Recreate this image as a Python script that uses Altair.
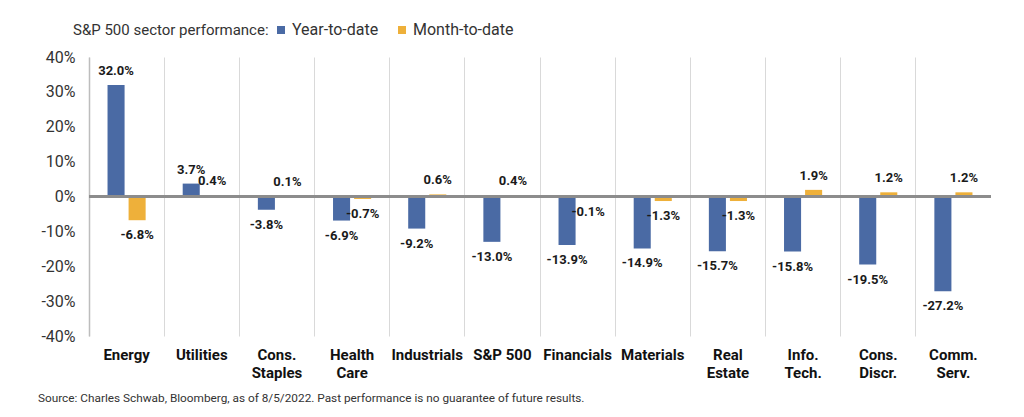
import altair as alt
import pandas as pd

sectors = ["Energy", "Utilities", "Cons.|Staples", "Health|Care", "Industrials", "S&P 500",
           "Financials", "Materials", "Real|Estate", "Info.|Tech.", "Cons.|Discr.", "Comm.|Serv."]
ytd = [32.0, 3.7, -3.8, -6.9, -9.2, -13.0, -13.9, -14.9, -15.7, -15.8, -19.5, -27.2]
mtd = [-6.8, 0.4, 0.1, -0.7, 0.6, 0.4, -0.1, -1.3, -1.3, 1.9, 1.2, 1.2]
series = ["Year-to-date", "Month-to-date"]
y_ticks = [-40, -30, -20, -10, 0, 10, 20, 30, 40]
source = "Source: Charles Schwab, Bloomberg, as of 8/5/2022. Past performance is no guarantee of future results."

rows = []
for s, a, b in zip(sectors, ytd, mtd):
    rows.append({"sector": s, "series": series[0], "value": a})
    rows.append({"sector": s, "series": series[1], "value": b})
df = pd.DataFrame(rows)
df["label"] = df["value"].map(lambda v: f"{v:.1f}%")

FONT = "Roboto"
BLUE = "#4a6aa4"
GOLD = "#eeb03a"

x_enc = alt.X("sector:N", sort=sectors, title=None,
              scale=alt.Scale(paddingInner=0, paddingOuter=0),
              axis=alt.Axis(labelExpr="split(datum.label, '|')", labelAngle=0,
                            labelFont=FONT, labelFontSize=15, labelFontWeight="bold",
                            labelColor="#111111", labelPadding=11, labelLineHeight=18,
                            labelBaseline="top",
                            domain=False, ticks=False, grid=True, bandPosition=0,
                            gridColor="#d9d9d9", gridWidth=1))
off_enc = alt.XOffset("series:N", sort=series,
                      scale=alt.Scale(paddingInner=0.19, paddingOuter=0.88))
y_enc = alt.Y("value:Q", scale=alt.Scale(domain=[-40, 40], nice=False), title=None,
              axis=alt.Axis(values=y_ticks, tickCount=9, labelExpr="datum.value + '%'",
                            labelFont=FONT, labelFontSize=16, labelColor="#333333",
                            labelPadding=14, ticks=False, grid=False, labelOverlap=False,
                            domainColor="#bdbdbd", domainWidth=1.5))

base = alt.Chart(df)

bars = base.mark_bar().encode(
    x=x_enc,
    xOffset=off_enc,
    y=y_enc,
    color=alt.Color("series:N", sort=series,
                    scale=alt.Scale(domain=series, range=[BLUE, GOLD]),
                    legend=alt.Legend(title="S&P 500 sector performance:", orient="none",
                                      legendX=-16, legendY=-35, direction="horizontal",
                                      titleOrient="left", titleFont=FONT, titleFontSize=15,
                                      titleFontWeight="normal", titleColor="#333333",
                                      titleLimit=400, labelLimit=300,
                                      titlePadding=4, labelFont=FONT, labelFontSize=16,
                                      labelColor="#333333", symbolType="square",
                                      symbolSize=64, symbolStrokeWidth=0, labelOffset=3,
                                      columnPadding=15)),
)

zero = base.mark_rule(color="#8c8c8c", strokeWidth=2).encode(y=alt.datum(0))

pos_labels = base.transform_filter("datum.value >= 0").mark_text(
    font=FONT, fontSize=13, fontWeight="bold", color="#1a1a1a", baseline="middle", dy=-14
).encode(x=x_enc, xOffset=off_enc, y=y_enc, text="label:N")

neg_labels = base.transform_filter("datum.value < 0").mark_text(
    font=FONT, fontSize=13, fontWeight="bold", color="#1a1a1a", baseline="middle", dy=15
).encode(x=x_enc, xOffset=off_enc, y=y_enc, text="label:N")

src = alt.Chart(pd.DataFrame({"t": [source]})).mark_text(
    font=FONT, fontSize=11.8, color="#333333", align="left", baseline="middle"
).encode(x=alt.value(-51), y=alt.value(341), text="t:N")

chart = alt.layer(bars, zero, pos_labels, neg_labels, src).properties(
    width=902, height=279,
    padding={"left": 81, "top": 49, "right": 25, "bottom": 72},
    autosize=alt.AutoSizeParams(type="none"),
    background="white",
).configure_view(stroke=None)

chart.save("out.html", embed_options={"renderer": "svg", "actions": False})
